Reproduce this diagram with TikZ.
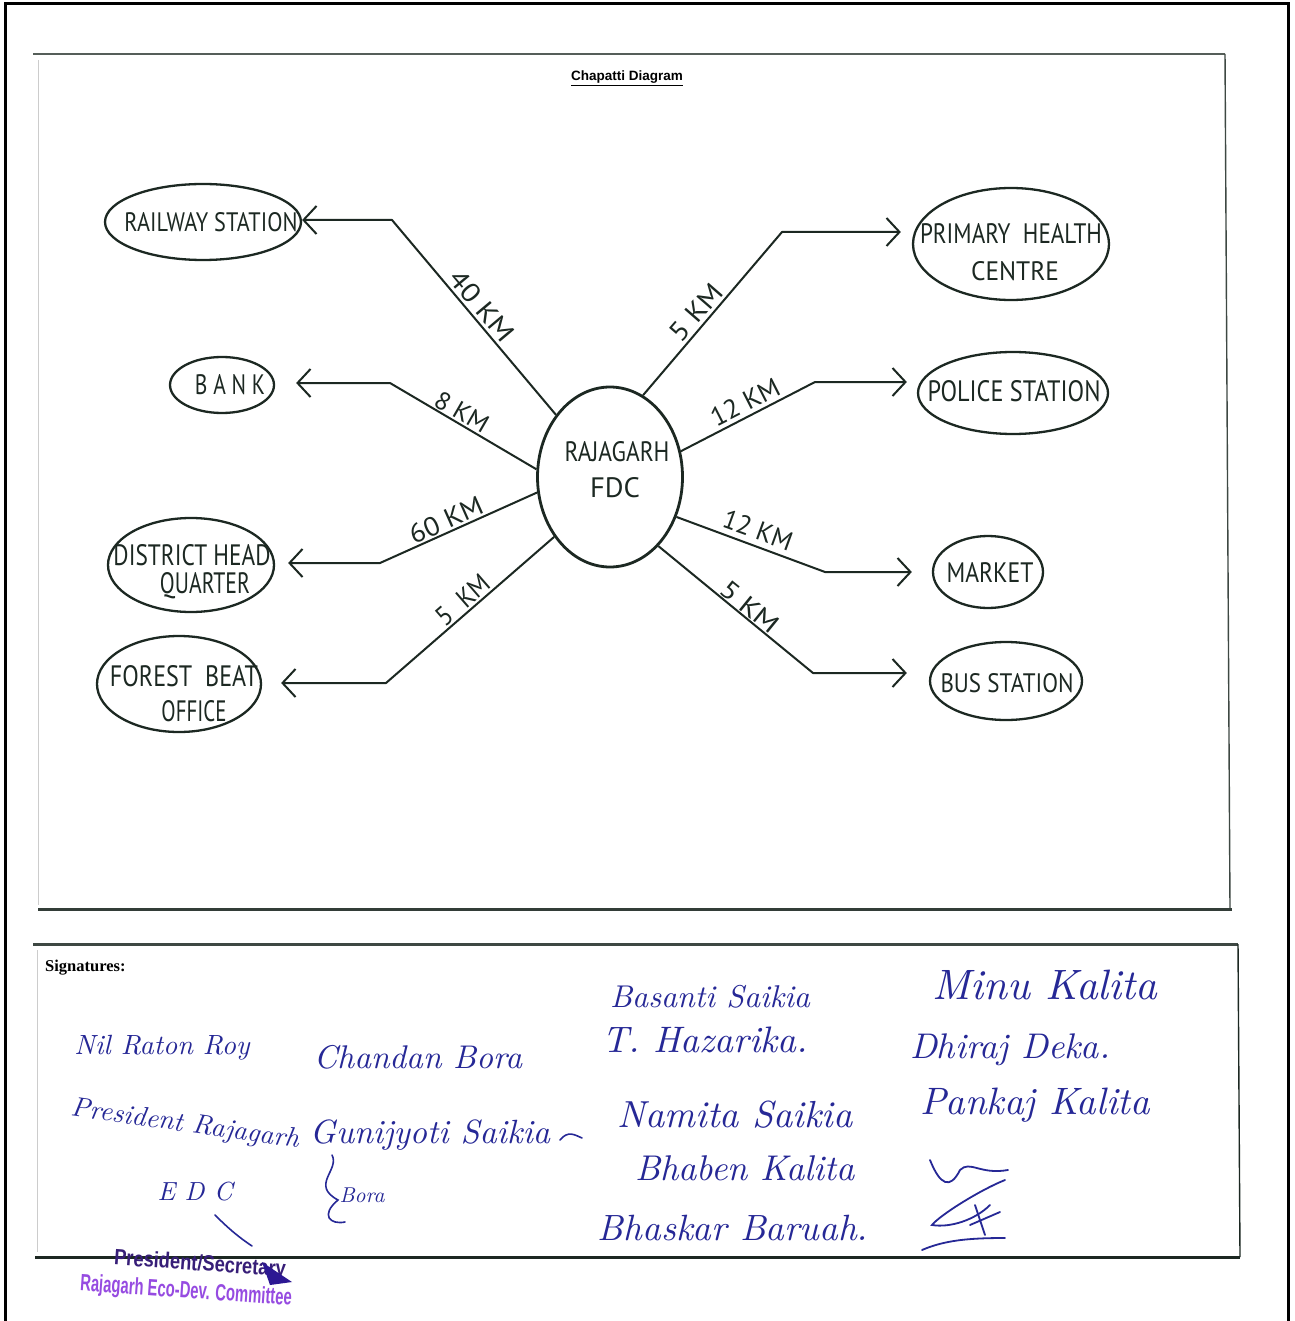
\documentclass[tikz,border=0pt]{standalone}
\usepackage{fontspec}
\usepackage{graphicx}
\usetikzlibrary{shapes.geometric,arrows.meta}
\newfontfamily\hand{PT Sans}
\newfontfamily\titlefont{Liberation Sans}
\newfontfamily\serifb{Liberation Serif}
\definecolor{ink}{RGB}{28,40,34}
\definecolor{pen}{RGB}{38,40,150}
\definecolor{stampc}{RGB}{150,75,225}
\definecolor{stampd}{RGB}{55,30,120}
\newcommand\fitt[3]{\resizebox{#1pt}{#2pt}{#3}}
\newcommand\fitw[2]{\resizebox{#1pt}{!}{#2}}
\begin{document}
\begin{tikzpicture}[x=1pt,y=-1pt,
  place/.style={ellipse, draw=ink, line width=2.3pt, inner sep=0pt},
  hub/.style={place, line width=2.8pt},
  lbl/.style={inner sep=0pt, text=ink, font=\hand},
  dist/.style={inner sep=0pt, text=ink, font=\hand},
  arr/.style={draw=ink, line width=2pt, line join=round,
    -{Straight Barb[length=13pt,width=28pt,line width=2pt]}},
  sig/.style={inner sep=0pt, text=pen, font=\rmfamily\itshape},
  stamp/.style={inner sep=0pt, text=stampc, font=\titlefont\bfseries}]
\useasboundingbox (0,0) rectangle (1294,1321);
\fill[white] (0,0) rectangle (1294,1321);
% frames
\draw[line width=3pt, black] (5,1321) -- (5,4) -- (1288,4) -- (1288,1321);
\draw[line width=2.2pt, ink!75] (33,54) -- (1225,54);
\draw[line width=1.4pt, ink!85] (1225,54) -- (1230,910);
\draw[line width=1pt, black!20] (38,60) -- (38,905);
\draw[line width=3pt, ink!90] (38,909) -- (1232,909);
\draw[line width=3pt, ink!85] (33,944) -- (1238,944);
\draw[line width=1.4pt, ink] (1238,944) -- (1240,1257);
\draw[line width=3pt, ink] (35,1257) -- (1240,1257);
\draw[line width=1pt, black!20] (37,950) -- (37,1252);
% title
\node[inner sep=0pt, font=\titlefont\bfseries\fontsize{13.5}{15}\selectfont] (title) at (627,78) {\underline{Chapatti Diagram}};
% hub
\node[hub, minimum width=145pt, minimum height=180pt] (c) at (610,477) {};
\node[lbl] (ct1) at (617,452) {\fitt{105}{20}{RAJAGARH}};
\node[lbl] (ct2) at (615,488) {\fitt{50}{20}{FDC}};
% places
\node[place, minimum width=196pt, minimum height=76pt] (rs) at (203,222) {};
\node[lbl] (rst) at (211,222) {\fitt{173}{19}{RAILWAY STATION}};
\node[place, minimum width=104pt, minimum height=56pt] (bk) at (222,385) {};
\node[lbl] (bkt) at (230,385) {\fitt{70}{20}{B A N K}};
\node[place, minimum width=166pt, minimum height=94pt] (dhq) at (191,565) {};
\node[lbl] (dhq1) at (192,555) {\fitt{157}{21}{DISTRICT HEAD}};
\node[lbl] (dhq2) at (205,586) {\fitt{90}{21}{QUARTER}};
\node[place, minimum width=164pt, minimum height=96pt] (fbo) at (179,684) {};
\node[lbl] (fbo1) at (184,676) {\fitt{148}{21}{FOREST \ BEAT}};
\node[lbl] (fbo2) at (194,711) {\fitt{65}{21}{OFFICE}};
\node[place, minimum width=196pt, minimum height=112pt] (phc) at (1011,244) {};
\node[lbl] (phc1) at (1011,233) {\fitt{182}{20}{PRIMARY \ HEALTH}};
\node[lbl] (phc2) at (1015,271) {\fitt{88}{19}{CENTRE}};
\node[place, minimum width=190pt, minimum height=82pt] (ps) at (1013,393) {};
\node[lbl] (pst) at (1014,391) {\fitt{173}{21}{POLICE STATION}};
\node[place, minimum width=110pt, minimum height=72pt] (mk) at (988,572) {};
\node[lbl] (mkt) at (990,572) {\fitt{87}{20}{MARKET}};
\node[place, minimum width=152pt, minimum height=78pt] (bs) at (1006,681) {};
\node[lbl] (bst) at (1007,683) {\fitt{133}{19}{BUS STATION}};
% bends
\coordinate (b1) at (392,220);
\coordinate (b2) at (390,383);
\coordinate (b3) at (380,563);
\coordinate (b4) at (386,683);
\coordinate (b5) at (782,232);
\coordinate (b6) at (815,382);
\coordinate (b7) at (825,572);
\coordinate (b8) at (813,673);
% connectors
\draw[arr] (c.131.5) -- (b1) -- (b1 -| rs.east);
\draw[arr, shorten >=21pt] (c.174) -- (b2) -- (b2 -| bk.east);
\draw[arr, shorten >=13pt] (c.192) -- (b3) -- (b3 -| dhq.east);
\draw[arr, shorten >=19pt] (c.227) -- (b4) -- (b4 -| fbo.east);
\draw[arr, shorten >=11pt] (c.68.5) -- (b5) -- (b5 -| phc.west);
\draw[arr, shorten >=10pt] (c.20.5) -- (b6) -- (b6 -| ps.west);
\draw[arr, shorten >=20pt] (c.-31.5) -- (b7) -- (b7 -| mk.west);
\draw[arr, shorten >=22pt] (c.-55.7) -- (b8) -- (b8 -| bs.west);
% distance labels
\node[dist, rotate=-50] (d1) at (482,306) {\fitt{85}{19}{40 KM}};
\node[dist, rotate=-30] (d2) at (462,412) {\fitt{58}{18}{8 KM}};
\node[dist, rotate=24] (d3) at (446,520) {\fitt{78}{19}{60 KM}};
\node[dist, rotate=41] (d4) at (463,600) {\fitt{62}{19}{5 \ KM}};
\node[dist, rotate=49] (d5) at (696,312) {\fitt{66}{19}{5 KM}};
\node[dist, rotate=27] (d6) at (745,402) {\fitt{74}{19}{12 KM}};
\node[dist, rotate=-20] (d7) at (758,530) {\fitt{72}{19}{12 KM}};
\node[dist, rotate=-39] (d8) at (750,607) {\fitt{68}{18}{5 KM}};
% signatures
\node[anchor=west, inner sep=0pt, font=\serifb\bfseries\fontsize{16.5}{18}\selectfont] (sigs) at (45,968) {Signatures:};
\node[sig] (s1) at (162,1048) {\fitw{175}{Nil Raton Roy}};
\node[sig] (s2) at (418,1057) {\fitw{208}{Chandan Bora}};
\node[sig, rotate=-8] (s3) at (185,1125) {\fitw{230}{President Rajagarh}};
\node[sig] (s4) at (195,1192) {\fitw{75}{E D C}};
\node[sig] (s5) at (430,1135) {\fitw{240}{Gunijyoti Saikia}};
\node[sig] (s6) at (362,1195) {\fitw{45}{Bora}};
\node[sig] (s7) at (710,997) {\fitw{200}{Basanti Saikia}};
\node[sig] (s8) at (705,1040) {\fitw{205}{T. Hazarika.}};
\node[sig] (s9) at (735,1115) {\fitw{235}{Namita Saikia}};
\node[sig] (s10) at (745,1168) {\fitw{220}{Bhaben Kalita}};
\node[sig] (s11) at (733,1228) {\fitw{270}{Bhaskar Baruah.}};
\node[sig] (s12) at (1045,985) {\fitw{225}{Minu Kalita}};
\node[sig] (s13) at (1010,1050) {\fitw{200}{Dhiraj Deka.}};
\node[sig] (s14) at (1035,1105) {\fitw{230}{Pankaj Kalita}};
% flourishes
\draw[pen, line width=1.6pt, line cap=round] (560,1140) .. controls (568,1130) and (575,1135) .. (582,1138);
\draw[pen, line width=1.6pt, line cap=round] (332,1155) .. controls (340,1170) and (310,1185) .. (338,1200) .. controls (320,1215) and (330,1225) .. (345,1222);
\draw[pen, line width=1.6pt, line cap=round] (215,1215) .. controls (230,1230) and (240,1238) .. (252,1246);
\draw[pen, line width=1.8pt, line cap=round] (930,1160) .. controls (940,1185) and (950,1190) .. (960,1170) .. controls (970,1160) and (980,1175) .. (1008,1170);
\draw[pen, line width=1.8pt, line cap=round] (1005,1180) .. controls (980,1190) and (940,1215) .. (932,1225) .. controls (950,1228) and (975,1220) .. (990,1205);
\draw[pen, line width=1.8pt, line cap=round] (975,1205) -- (985,1235) (970,1225) -- (1000,1212);
\draw[pen, line width=1.8pt, line cap=round] (922,1250) .. controls (945,1240) and (970,1238) .. (1005,1238);
% stamp
\node[stamp, text=stampd, rotate=-4] (st1) at (200,1265) {\fitt{172}{16}{President/Secretary}};
\node[stamp, rotate=-4] (st2) at (186,1292) {\fitt{212}{17}{Rajagarh Eco-Dev. Committee}};
\fill[stampd!80!blue] (262,1262) -- (292,1282) -- (270,1285) -- cycle;
\end{tikzpicture}
\end{document}
